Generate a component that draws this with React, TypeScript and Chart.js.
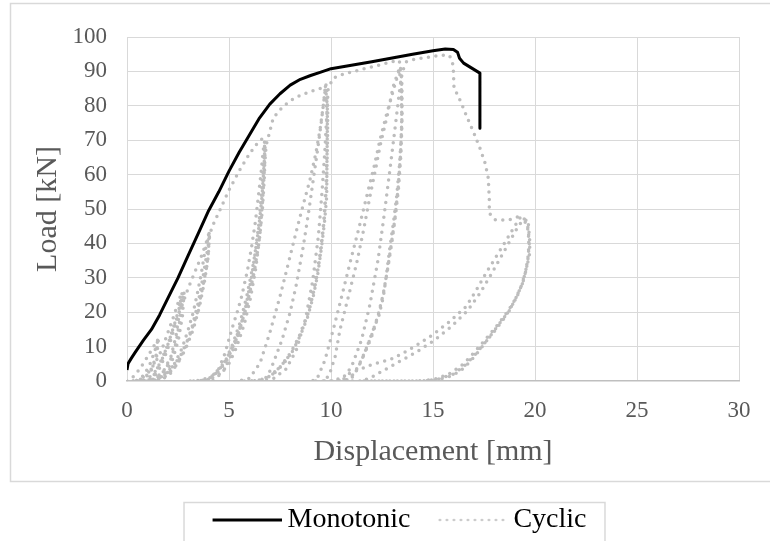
import React, { useEffect, useRef } from 'react';
import { Chart, registerables } from 'chart.js';

Chart.register(...registerables);

const FONT = "'Liberation Serif', 'Times New Roman', serif";

// Axis ranges / tick steps
const X_MIN = 0;
const X_MAX = 30;
const X_STEP = 5;
const Y_MIN = 0;
const Y_MAX = 100;
const Y_STEP = 10;

const SERIES_LABELS = ['Monotonic', 'Cyclic'];
const AXIS_TITLES = { x: 'Displacement [mm]', y: 'Load [kN]' };

// Monotonic test: displacement [mm] and load [kN]
const monoX = [0, 0.05, 0.2, 0.4, 0.8, 1.2, 1.6, 2.0, 2.5, 3.0, 3.5, 4.0, 4.5, 5.0, 5.5, 6.0, 6.5, 7.0, 7.5, 8.0, 8.5, 9.0, 9.5, 10.0, 11.0, 12.0, 13.0, 14.0, 15.0, 15.6, 16.0, 16.2, 16.3, 16.5, 17.3, 17.3];
const monoY = [3.2, 5.0, 6.5, 8.3, 11.8, 15, 19.2, 24, 30, 36.5, 43, 49.5, 55, 61, 66.5, 71.5, 76.5, 80.5, 83.5, 86, 87.7, 88.8, 89.8, 90.8, 91.8, 92.8, 93.9, 95, 96, 96.5, 96.4, 95.6, 93.8, 92.4, 89.5, 73.5];

// Cyclic test, split per load stage: [displacement, load]
const cycleSmall: number[][] = [
  [0, 0], [0.3, 1.2], [0.6, 3.3], [0.9, 6], [1.2, 9], [1.5, 12], [1.45, 8], [1.25, 4], [0.95, 1.5], [0.6, 0.3], [0.2, 0],
  [0.5, 0.2], [0.8, 1.5], [1.1, 4.5], [1.35, 8.5], [1.55, 12.5], [1.45, 7], [1.15, 2.5], [0.8, 0.5], [0.4, 0],
];
const cycle26: number[][] = [
  [0.6, 0.3], [1.0, 2], [1.4, 5.5], [1.7, 9], [2.0, 14], [2.3, 19], [2.6, 24.5], [2.55, 19], [2.4, 13], [2.15, 7], [1.8, 3], [1.4, 0.8], [1.0, 0], [0.5, 0],
  [0.9, 0.3], [1.3, 2], [1.7, 6], [2.0, 10.5], [2.3, 16], [2.55, 21], [2.7, 25.5], [2.6, 18], [2.4, 11], [2.1, 5.5], [1.7, 2], [1.3, 0.3], [0.8, 0],
  [1.1, 0.3], [1.5, 2.5], [1.85, 7], [2.15, 12], [2.45, 18], [2.7, 23], [2.8, 26], [2.72, 19], [2.52, 12], [2.25, 6.5], [1.9, 2.5], [1.5, 0.5], [1.0, 0],
];
const cycle40: number[][] = [
  [1.3, 1.5], [1.6, 5], [2.0, 10.5], [2.35, 17], [2.7, 22], [3.0, 27], [3.35, 32], [3.66, 36.5], [3.9, 40.5], [4.02, 43],
  [4.0, 38], [3.9, 33], [3.7, 27], [3.45, 20], [3.09, 13.5], [2.6, 7], [2.0, 2.5], [1.5, 0.5], [1.1, 0],
  [1.5, 0.3], [1.9, 2], [2.35, 5.2], [2.7, 9.5], [3.0, 14.9], [3.25, 20], [3.45, 25.5], [3.65, 31.5], [3.8, 37], [3.95, 41], [4.05, 43.5],
  [3.98, 36], [3.8, 29], [3.55, 21.5], [3.25, 15], [2.85, 9], [2.35, 4], [1.85, 1.2], [1.35, 0],
  [1.7, 0.3], [2.15, 2.3], [2.55, 5.8], [2.9, 10.5], [3.2, 16], [3.48, 22.5], [3.72, 30], [3.9, 36.5], [4.05, 42], [4.15, 44.5],
];
const cycle66: number[][] = [
  [4.5, 49], [5.0, 55.5], [5.54, 61.5], [6.0, 66], [6.3, 68.5], [6.6, 70.3],
  [6.76, 68], [6.72, 63], [6.62, 53.7], [6.45, 44], [6.2, 34.3], [5.87, 24.6], [5.54, 17], [5.2, 11], [4.8, 5.5], [4.2, 1.5], [3.6, 0.2], [3.0, 0],
  [3.5, 0], [4.0, 0.5], [4.48, 3.3], [4.8, 8], [5.13, 14.9], [5.4, 20], [5.62, 24.6], [5.9, 32], [6.11, 39.1], [6.3, 46.5], [6.44, 53.7], [6.58, 61], [6.68, 67.2], [6.74, 69.5],
  [6.72, 62], [6.64, 52], [6.52, 43], [6.32, 35], [6.02, 26], [5.65, 17.5], [5.22, 10.5], [4.72, 4.8], [4.2, 1.2], [3.6, 0],
  [4.2, 0.2], [4.7, 2.5], [5.1, 7.5], [5.45, 13.5], [5.8, 21], [6.1, 30], [6.3, 38], [6.47, 46], [6.6, 55], [6.7, 63], [6.77, 68.5],
  [6.74, 60], [6.64, 50], [6.48, 40.5], [6.23, 31.5], [5.88, 22], [5.42, 13], [4.92, 6.2], [4.4, 2], [3.8, 0.2], [3.3, 0],
];
const cycle97: number[][] = [
  [3.9, 0.3], [4.45, 1.5], [4.95, 4.5], [5.35, 9.5], [5.75, 16.5], [6.05, 24], [6.32, 33], [6.52, 43], [6.65, 53], [6.74, 62], [6.82, 68.5], [7.0, 72.5],
  [7.17, 76.5], [7.6, 79.5], [8.0, 81.5], [8.48, 83], [9.0, 84.2], [9.46, 85], [9.72, 86],
  [9.82, 80], [9.82, 73], [9.8, 63], [9.79, 53.7], [9.68, 46], [9.54, 39.1], [9.35, 31], [9.13, 24.6], [8.85, 18.5], [8.48, 13], [8.1, 8.5], [7.66, 5.2], [7.3, 2.8], [7.0, 1.3], [6.5, 0.3], [6.0, 0],
  [5.5, 0], [6.0, 0.8], [6.52, 5.2], [7.0, 14], [7.5, 24.6], [7.9, 34], [8.32, 44], [8.65, 51.5], [8.97, 58.5], [9.25, 66], [9.46, 73], [9.62, 80], [9.72, 85.5],
  [9.8, 78], [9.8, 68], [9.76, 57], [9.64, 46], [9.44, 36], [9.17, 27], [8.82, 19], [8.38, 12], [7.88, 6.5], [7.32, 2.7], [6.8, 0.6], [6.2, 0],
  [6.6, 0], [6.9, 1.5], [7.17, 5.2], [7.6, 12], [7.99, 19.8], [8.3, 28], [8.64, 39.1], [8.9, 49], [9.13, 58.5], [9.35, 67.5], [9.54, 76], [9.68, 83], [9.76, 86.3],
  [9.84, 79], [9.83, 70], [9.79, 58], [9.67, 47], [9.5, 37.5], [9.25, 28.5], [8.93, 20.5], [8.53, 14], [8.03, 8.3], [7.52, 4.2], [7.02, 1.5], [6.5, 0.2], [6.0, 0],
];
const cycle133: number[][] = [
  [6.6, 0], [7.2, 0.8], [7.8, 3.5], [8.3, 9], [8.75, 18], [9.1, 29], [9.38, 42], [9.56, 55], [9.7, 67], [9.8, 78], [9.86, 85],
  [10.1, 88], [10.5, 89], [11.0, 89.8], [11.5, 90.6], [12.07, 91.4], [12.6, 92.2], [13.05, 92.9], [13.35, 93.1],
  [13.46, 88], [13.47, 80], [13.46, 73], [13.36, 63], [13.22, 53.7], [13.06, 46], [12.89, 39], [12.73, 31.5], [12.57, 24.6], [12.35, 19], [12.07, 14.9], [11.8, 10.5], [11.58, 7.2], [11.3, 3.5], [11.09, 1.3], [10.7, 0.2], [10.2, 0], [9.5, 0], [9.0, 0],
  [9.3, 0.4], [9.7, 6], [10.11, 14.9], [10.5, 24], [10.93, 34.3], [11.35, 44], [11.75, 53.7], [12.1, 62], [12.4, 70.1], [12.7, 77], [12.97, 82.7], [13.2, 87.5], [13.35, 90.5],
  [13.45, 85], [13.47, 76], [13.41, 66], [13.29, 56], [13.13, 47], [12.96, 40], [12.76, 32], [12.55, 25], [12.3, 19], [12.0, 13.5], [11.7, 9], [11.4, 5], [11.1, 2], [10.8, 0.4], [10.3, 0], [9.6, 0],
  [9.9, 1.5], [10.2, 7], [10.44, 14.9], [10.85, 24.5], [11.26, 34.3], [11.6, 44], [11.91, 53.7], [12.2, 62], [12.4, 68.2], [12.75, 77], [13.05, 85.6], [13.3, 90], [13.4, 91.5],
  [13.48, 86], [13.49, 77], [13.43, 66], [13.31, 56], [13.16, 48], [12.99, 40.5], [12.79, 33], [12.59, 26], [12.36, 20], [12.06, 14], [11.76, 9.5], [11.46, 5.5], [11.16, 2.2], [10.86, 0.5], [10.4, 0], [10.0, 0],
];
const cyclePeak: number[][] = [
  [10.6, 1], [11.0, 4], [11.5, 12], [11.9, 22], [12.3, 35], [12.6, 48], [12.9, 62], [13.15, 74], [13.35, 84], [13.5, 90], [13.7, 92.8],
  [14.0, 93.4], [14.4, 93.8], [14.85, 94.2], [15.2, 94.5], [15.5, 94.7], [15.8, 94.6], [15.95, 93], [16.0, 90], [16.03, 85.2],
  [16.24, 82.7], [16.4, 80.6], [16.68, 76.5], [16.97, 72.6], [17.3, 67.7], [17.55, 63.4], [17.71, 59], [17.76, 52.7], [17.76, 48.8],
  [18.04, 46.9], [18.4, 46.8], [18.77, 46.9], [19.18, 47.8], [19.5, 47], [19.67, 45.9],
];
const cyclePost: number[][] = [
  [19.75, 40.1], [19.72, 36], [19.59, 33.3], [19.4, 28.5], [19.1, 24.6], [18.75, 20.5], [18.28, 16.9], [17.8, 13], [17.3, 9.1], [16.8, 5.5], [16.32, 2.8], [15.7, 1], [15.0, 0.2], [14.0, 0], [12.5, 0], [11.0, 0], [10.3, 0],
  [10.6, 0.5], [10.93, 2.3], [11.5, 3.6], [12.0, 4.8], [12.9, 6.2], [13.5, 8], [14.2, 10.4], [15.0, 13.5], [15.8, 17.2], [16.63, 21.7], [17.1, 26.2], [17.6, 31.4], [18.1, 36.2], [18.6, 41], [18.95, 44.5], [19.26, 47.4], [19.45, 47.6], [19.62, 46.2],
  [19.7, 42], [19.68, 37], [19.55, 32], [19.32, 27.5], [18.98, 23], [18.52, 18.5], [18.02, 14.5], [17.5, 10.8], [17.0, 7.2], [16.5, 4.2], [16.0, 2], [15.3, 0.6], [14.5, 0], [13.0, 0], [11.5, 0],
  [11.9, 0.8], [12.5, 2.8], [13.1, 4.8], [13.7, 6.8], [14.4, 9.2], [15.1, 12], [15.9, 15.8], [16.7, 20.5], [17.3, 25.5], [17.85, 31], [18.35, 36.3], [18.82, 41.2], [19.18, 45], [19.42, 46.8], [19.62, 45.5],
  [19.72, 40], [19.64, 34.5], [19.45, 29.5], [19.15, 25], [18.7, 20.5], [18.15, 16.2], [17.6, 12.3], [17.05, 8.5], [16.5, 5], [15.9, 2.4], [15.2, 0.7], [14.5, 0],
];

const cyclicStages = [cycleSmall, cycle26, cycle40, cycle66, cycle97, cycle133, cyclePeak, cyclePost];

const framePlugin = {
  id: 'frame',
  afterLayout(chart: any) {
    const lg = chart.legend;
    if (lg) {
      lg.left += 25;
      lg.right += 25;
    }
  },
  beforeDraw(chart: any) {
    const { ctx, width } = chart;
    ctx.save();
    ctx.fillStyle = '#ffffff';
    ctx.fillRect(0, 0, chart.width, chart.height);
    ctx.strokeStyle = '#D9D9D9';
    ctx.lineWidth = 1.5;
    ctx.strokeRect(10.5, 3.5, width + 20, 478);
    ctx.restore();
  },
  afterDraw(chart: any) {
    const lg = chart.legend;
    if (!lg || !lg.legendHitBoxes || !lg.legendHitBoxes.length) return;
    const hb = lg.legendHitBoxes;
    const first = hb[0];
    const last = hb[hb.length - 1];
    const { ctx } = chart;
    ctx.save();
    ctx.strokeStyle = '#D9D9D9';
    ctx.lineWidth = 1.5;
    const left = first.left - 29;
    const right = last.left + last.width + 18;
    const top = first.top - 4;
    ctx.strokeRect(left + 0.5, top + 0.5, right - left, 80);
    ctx.restore();
  },
};

function makeSample(color: string, width: number, dash: number[]) {
  const c = document.createElement('canvas');
  c.width = 77;
  c.height = 10;
  const g = c.getContext('2d')!;
  g.strokeStyle = color;
  g.lineWidth = width;
  g.lineCap = dash.length ? 'round' : 'butt';
  g.setLineDash(dash);
  g.beginPath();
  g.moveTo(dash.length ? 9.5 : 8, 5);
  g.lineTo(77, 5);
  g.stroke();
  return c;
}

export default function App() {
  const ref = useRef<HTMLCanvasElement>(null);

  useEffect(() => {
    const canvas = ref.current;
    if (!canvas) return;

    const monoPts = monoX.map((x, i) => ({ x, y: monoY[i] }));
    const cycPts = cyclicStages.flat().map((p) => ({ x: p[0], y: p[1] }));

    const samples = [makeSample('#000000', 3, []), makeSample('#BFBFBF', 2.5, [0, 7])];

    const tickFont = { family: FONT, size: 23 };
    const titleFont = { family: FONT, size: 30 };

    const chart = new Chart(canvas, {
      type: 'scatter',
      data: {
        datasets: [
          {
            label: SERIES_LABELS[0],
            data: monoPts,
            showLine: true,
            borderColor: '#000000',
            backgroundColor: '#000000',
            borderWidth: 3,
            borderJoinStyle: 'round',
            pointRadius: 0,
            tension: 0,
          },
          {
            label: SERIES_LABELS[1],
            data: cycPts,
            showLine: true,
            borderColor: '#BDBDBD',
            backgroundColor: '#BDBDBD',
            borderWidth: 3.5,
            borderDash: [0, 7.5],
            borderCapStyle: 'round',
            borderJoinStyle: 'round',
            pointRadius: 0,
            tension: 0,
          },
        ],
      } as any,
      options: {
        responsive: false,
        animation: false,
        devicePixelRatio: 1,
        layout: { padding: { left: 10, right: 31, top: 37, bottom: -3 } },
        scales: {
          x: {
            type: 'linear',
            min: X_MIN,
            max: X_MAX,
            ticks: { stepSize: X_STEP, padding: 16, color: '#595959', font: tickFont },
            grid: { color: '#D9D9D9', lineWidth: 1, drawTicks: false },
            border: { color: '#BFBFBF', width: 1.5 },
            title: {
              display: true,
              text: AXIS_TITLES.x,
              color: '#595959',
              font: titleFont,
              padding: { top: 0, bottom: 8 },
            },
            afterFit: (s: any) => {
              s.height = 97;
            },
          },
          y: {
            type: 'linear',
            min: Y_MIN,
            max: Y_MAX,
            ticks: { stepSize: Y_STEP, padding: 20, color: '#595959', font: tickFont },
            grid: {
              color: (c: any) => (c.tick && c.tick.value === 0 ? 'rgba(0,0,0,0)' : '#D9D9D9'),
              lineWidth: 1,
              drawTicks: false,
            },
            border: { color: '#D9D9D9', width: 1 },
            title: {
              display: true,
              text: AXIS_TITLES.y,
              color: '#595959',
              font: titleFont,
              padding: { top: 20, bottom: 0 },
            },
            afterFit: (s: any) => {
              s.width = 117;
            },
          },
        },
        plugins: {
          tooltip: { enabled: false },
          legend: {
            display: true,
            position: 'bottom',
            labels: {
              usePointStyle: true,
              pointStyleWidth: 61,
              padding: 28,
              color: '#000000',
              font: { family: FONT, size: 28 },
              generateLabels: (ch: any) =>
                ch.data.datasets.map((ds: any, i: number) => ({
                  text: ds.label,
                  pointStyle: samples[i],
                  datasetIndex: i,
                  hidden: false,
                  fillStyle: 'rgba(0,0,0,0)',
                  strokeStyle: 'rgba(0,0,0,0)',
                  lineWidth: 0,
                  fontColor: '#000000',
                })),
            },
          },
        },
      } as any,
      plugins: [framePlugin],
    });

    return () => {
      chart.destroy();
    };
  }, []);

  return (
    <div style={{ position: 'fixed', left: 0, top: 0, width: 770, height: 541, background: '#ffffff' }}>
      <canvas ref={ref} width={770} height={541} style={{ display: 'block' }} />
    </div>
  );
}
